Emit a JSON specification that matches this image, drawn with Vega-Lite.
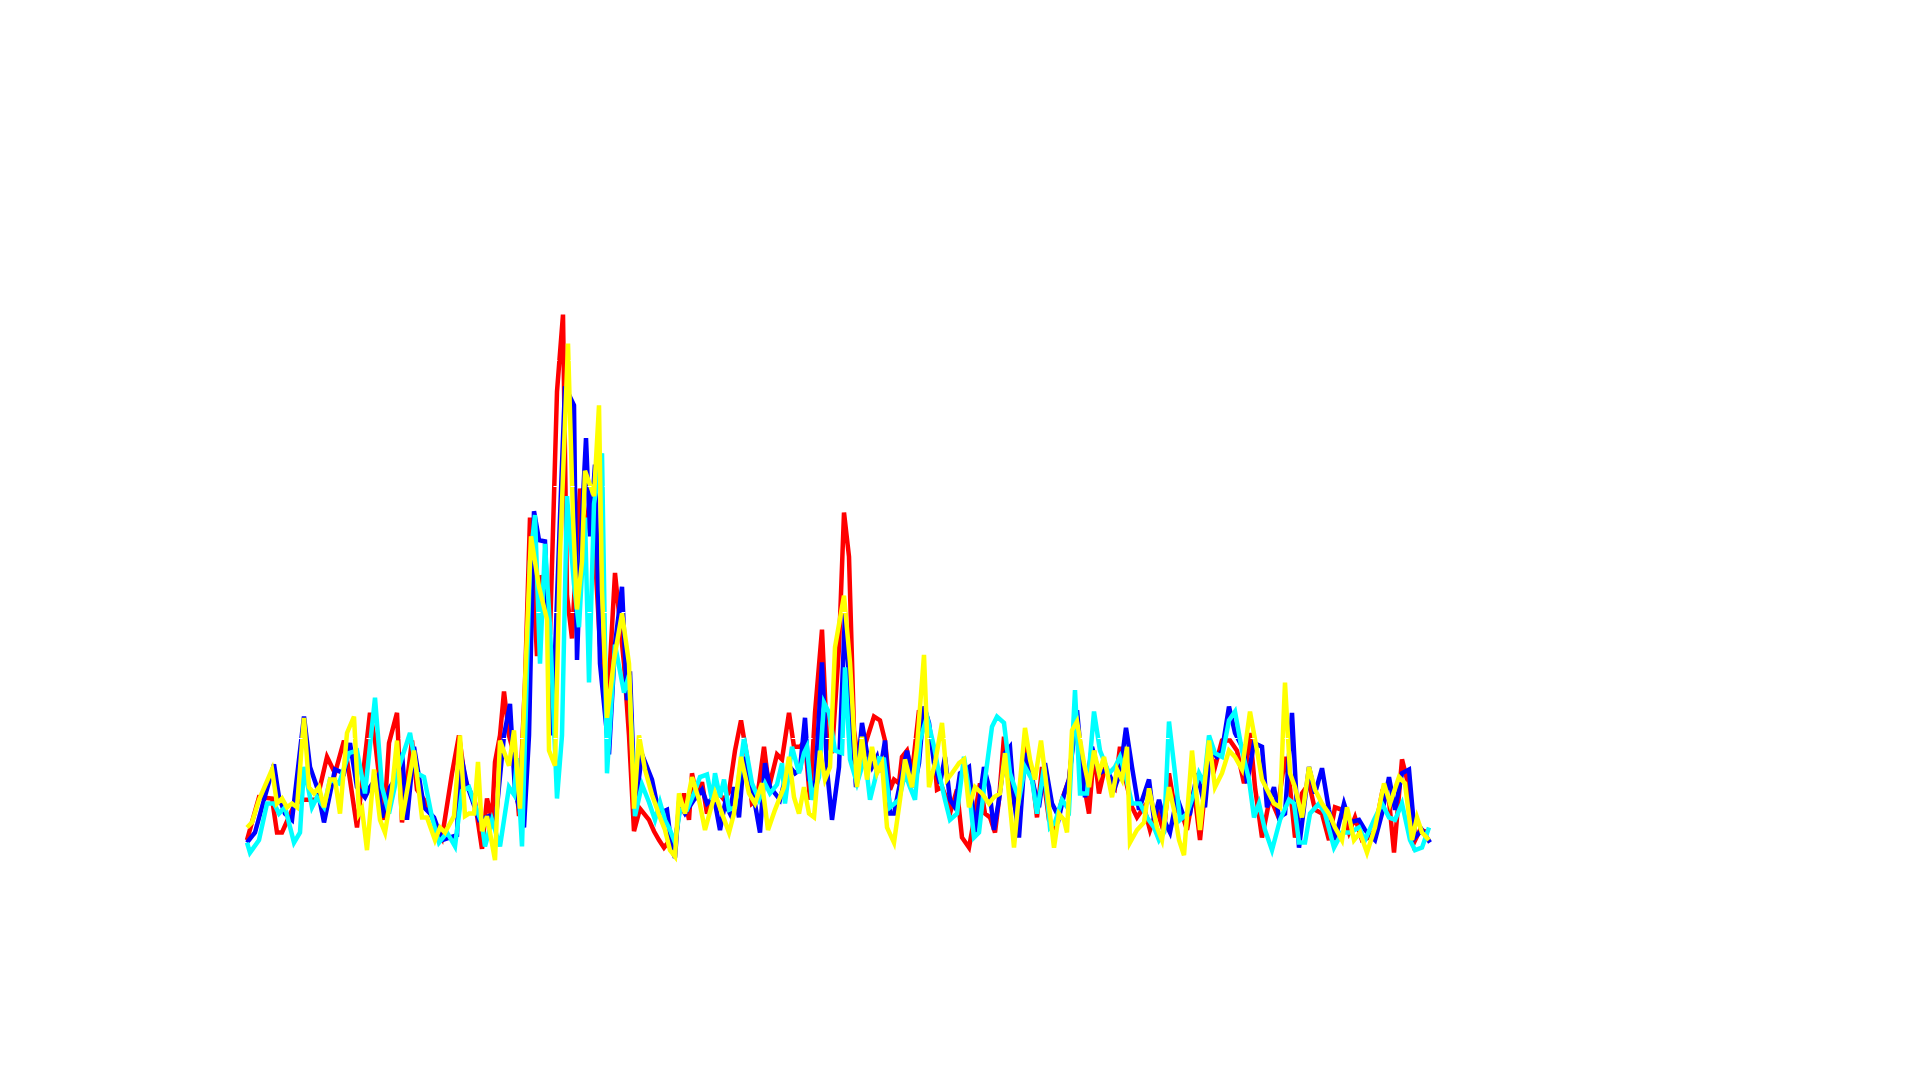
{
  "$schema": "https://vega.github.io/schema/vega-lite/v6.json",
  "width": 1185,
  "height": 630,
  "padding": {"left": 238, "top": 234, "right": 0, "bottom": 0},
  "background": "white",
  "config": {"view": {"stroke": null}},
  "datasets": {
    "red": [
      {"t":0,"v":0.19},{"t":12,"v":0.53},{"t":25,"v":0.52},{"t":30,"v":0.25},{"t":35,"v":0.25},{"t":48,"v":0.48},{"t":57,"v":0.51},{"t":70,"v":0.51},{"t":80,"v":0.85},{"t":88,"v":0.72},{"t":97,"v":0.98},{"t":102,"v":0.72},{"t":110,"v":0.29},{"t":123,"v":1.20},{"t":128,"v":0.98},{"t":137,"v":0.35},{"t":142,"v":0.96},{"t":150,"v":1.20},{"t":155,"v":0.33},{"t":165,"v":0.98},{"t":170,"v":0.59},{"t":177,"v":0.51},{"t":185,"v":0.37},{"t":195,"v":0.21},
      {"t":205,"v":0.72},{"t":212,"v":1.02},{"t":218,"v":0.67},{"t":228,"v":0.49},{"t":235,"v":0.12},{"t":240,"v":0.52},{"t":245,"v":0.35},{"t":248,"v":0.81},{"t":253,"v":1.02},{"t":257,"v":1.37},{"t":262,"v":1.02},{"t":267,"v":0.87},{"t":272,"v":0.38},{"t":278,"v":1.44},{"t":283,"v":2.75},{"t":290,"v":1.65},{"t":293,"v":2.29},{"t":298,"v":2.17},{"t":303,"v":1.82},{"t":310,"v":3.75},{"t":316,"v":4.36},{"t":320,"v":2.13},{"t":325,"v":1.79},{"t":333,"v":2.98},{"t":338,"v":2.63},{"t":343,"v":2.89},{"t":348,"v":2.45},{"t":353,"v":1.74},{"t":360,"v":1.16},{"t":368,"v":2.31},{"t":377,"v":1.59},{"t":382,"v":1.02},{"t":387,"v":0.26},{"t":393,"v":0.44},{"t":402,"v":0.35},{"t":407,"v":0.26},
      {"t":412,"v":0.19},{"t":417,"v":0.13},{"t":423,"v":0.19},{"t":427,"v":0.11},{"t":432,"v":0.40},{"t":437,"v":0.56},{"t":442,"v":0.35},{"t":445,"v":0.72},{"t":450,"v":0.51},{"t":455,"v":0.65},{"t":460,"v":0.40},{"t":465,"v":0.51},{"t":472,"v":0.56},{"t":477,"v":0.51},{"t":482,"v":0.57},{"t":488,"v":0.90},{"t":494,"v":1.14},{"t":500,"v":0.85},{"t":505,"v":0.48},{"t":510,"v":0.51},{"t":517,"v":0.93},{"t":522,"v":0.61},{"t":530,"v":0.87},{"t":535,"v":0.83},{"t":542,"v":1.20},{"t":547,"v":0.93},{"t":553,"v":0.93},{"t":558,"v":0.98},{"t":563,"v":0.51},{"t":568,"v":1.20},{"t":575,"v":1.86},{"t":580,"v":0.98},{"t":585,"v":0.88},{"t":592,"v":1.72},{"t":597,"v":2.79},{"t":602,"v":2.44},{"t":607,"v":1.06},{"t":612,"v":0.77},
      {"t":617,"v":0.92},{"t":627,"v":1.17},{"t":633,"v":1.14},{"t":638,"v":0.98},{"t":643,"v":0.59},{"t":647,"v":0.67},{"t":652,"v":0.64},{"t":655,"v":0.85},{"t":660,"v":0.90},{"t":665,"v":0.72},{"t":672,"v":1.22},{"t":678,"v":1.09},{"t":683,"v":1.01},{"t":687,"v":0.88},{"t":690,"v":0.59},{"t":695,"v":0.61},{"t":700,"v":0.51},{"t":704,"v":0.43},{"t":710,"v":0.59},{"t":715,"v":0.21},{"t":722,"v":0.13},{"t":727,"v":0.35},{"t":733,"v":0.64},{"t":738,"v":0.40},{"t":743,"v":0.37},{"t":748,"v":0.25},{"t":752,"v":0.51},{"t":757,"v":1.01},{"t":762,"v":0.75},{"t":768,"v":0.45},{"t":773,"v":0.59},{"t":778,"v":0.98},{"t":785,"v":0.72},{"t":790,"v":0.37},{"t":795,"v":0.77},{"t":802,"v":0.35},{"t":808,"v":0.29},{"t":815,"v":0.51},
      {"t":822,"v":0.67},{"t":828,"v":1.12},{"t":835,"v":0.72},{"t":842,"v":0.40},{"t":847,"v":0.90},{"t":852,"v":0.56},{"t":858,"v":0.77},{"t":863,"v":0.67},{"t":868,"v":0.61},{"t":873,"v":0.93},{"t":878,"v":0.69},{"t":885,"v":0.45},{"t":890,"v":0.37},{"t":897,"v":0.45},{"t":903,"v":0.27},{"t":910,"v":0.43},{"t":917,"v":0.25},{"t":922,"v":0.72},{"t":928,"v":0.43},{"t":935,"v":0.40},{"t":940,"v":0.27},{"t":947,"v":0.59},{"t":953,"v":0.19},{"t":962,"v":0.90},{"t":968,"v":0.77},{"t":975,"v":0.98},{"t":983,"v":0.98},{"t":990,"v":0.90},{"t":997,"v":0.64},{"t":1003,"v":1.04},{"t":1008,"v":0.61},{"t":1015,"v":0.21},
      {"t":1023,"v":0.53},{"t":1030,"v":0.40},{"t":1038,"v":0.85},{"t":1043,"v":0.61},{"t":1048,"v":0.21},{"t":1055,"v":0.56},{"t":1062,"v":0.64},{"t":1068,"v":0.43},{"t":1075,"v":0.40},{"t":1082,"v":0.19},{"t":1088,"v":0.45},{"t":1095,"v":0.43},{"t":1102,"v":0.25},{"t":1108,"v":0.37},{"t":1115,"v":0.19},{"t":1122,"v":0.21},{"t":1128,"v":0.27},{"t":1135,"v":0.56},{"t":1142,"v":0.51},{"t":1147,"v":0.09},{"t":1155,"v":0.83},{"t":1162,"v":0.61},{"t":1167,"v":0.17},{"t":1173,"v":0.27},{"t":1182,"v":0.25}
    ],
    "blue": [
      {"t":0,"v":0.17},{"t":8,"v":0.25},{"t":17,"v":0.51},{"t":27,"v":0.79},{"t":32,"v":0.53},{"t":38,"v":0.40},{"t":45,"v":0.35},{"t":57,"v":1.17},{"t":63,"v":0.77},{"t":70,"v":0.61},{"t":77,"v":0.33},{"t":88,"v":0.75},{"t":97,"v":0.72},{"t":103,"v":0.96},{"t":110,"v":0.61},{"t":118,"v":0.53},{"t":123,"v":0.61},{"t":130,"v":0.69},{"t":135,"v":0.37},{"t":143,"v":0.61},{"t":148,"v":0.67},{"t":155,"v":0.88},{"t":160,"v":0.35},{"t":167,"v":0.93},{"t":177,"v":0.45},{"t":187,"v":0.37},{"t":195,"v":0.19},
      {"t":210,"v":0.23},{"t":213,"v":0.90},{"t":220,"v":0.63},{"t":232,"v":0.35},{"t":242,"v":0.38},{"t":248,"v":0.29},{"t":257,"v":1.02},{"t":263,"v":1.27},{"t":268,"v":0.58},{"t":277,"v":0.29},{"t":282,"v":1.02},{"t":287,"v":2.80},{"t":292,"v":2.57},{"t":298,"v":2.56},{"t":305,"v":1.02},{"t":313,"v":2.75},{"t":318,"v":3.79},{"t":327,"v":3.64},{"t":330,"v":1.62},{"t":335,"v":2.75},{"t":339,"v":3.38},{"t":343,"v":2.60},{"t":348,"v":3.17},{"t":353,"v":1.59},{"t":362,"v":0.87},{"t":368,"v":1.74},{"t":375,"v":2.20},{"t":380,"v":1.30},{"t":383,"v":1.53},{"t":388,"v":0.44},{"t":395,"v":0.87},{"t":405,"v":0.67},
      {"t":412,"v":0.40},{"t":420,"v":0.43},{"t":425,"v":0.11},{"t":428,"v":0.05},{"t":432,"v":0.48},{"t":438,"v":0.40},{"t":447,"v":0.51},{"t":455,"v":0.59},{"t":460,"v":0.48},{"t":467,"v":0.53},{"t":473,"v":0.27},{"t":478,"v":0.48},{"t":483,"v":0.40},{"t":487,"v":0.61},{"t":492,"v":0.37},{"t":497,"v":0.85},{"t":505,"v":0.61},{"t":513,"v":0.25},{"t":518,"v":0.80},{"t":523,"v":0.61},{"t":528,"v":0.56},{"t":533,"v":0.51},{"t":538,"v":0.67},{"t":543,"v":0.77},{"t":548,"v":0.72},{"t":553,"v":0.75},{"t":558,"v":1.16},{"t":562,"v":0.67},{"t":568,"v":0.61},{"t":575,"v":1.60},{"t":580,"v":0.75},{"t":585,"v":0.35},{"t":592,"v":0.77},{"t":598,"v":1.99},{"t":603,"v":1.33},{"t":609,"v":0.61},{"t":615,"v":1.12},
      {"t":620,"v":0.88},{"t":625,"v":0.77},{"t":630,"v":0.85},{"t":633,"v":0.73},{"t":638,"v":0.98},{"t":643,"v":0.40},{"t":647,"v":0.40},{"t":653,"v":0.64},{"t":660,"v":0.90},{"t":667,"v":0.61},{"t":672,"v":0.80},{"t":677,"v":1.25},{"t":682,"v":1.12},{"t":687,"v":0.80},{"t":693,"v":0.64},{"t":698,"v":0.85},{"t":703,"v":0.51},{"t":708,"v":0.45},{"t":713,"v":0.72},{"t":722,"v":0.77},{"t":728,"v":0.25},{"t":737,"v":0.77},{"t":742,"v":0.61},{"t":747,"v":0.27},{"t":752,"v":0.51},{"t":758,"v":0.88},{"t":763,"v":0.93},{"t":767,"v":0.51},{"t":772,"v":0.21},{"t":778,"v":0.88},{"t":785,"v":0.67},{"t":792,"v":0.45},{"t":798,"v":0.80},{"t":805,"v":0.48},{"t":812,"v":0.37},
      {"t":817,"v":0.55},{"t":822,"v":0.67},{"t":830,"v":1.22},{"t":838,"v":0.53},{"t":845,"v":0.93},{"t":852,"v":0.72},{"t":860,"v":0.75},{"t":868,"v":0.61},{"t":873,"v":0.72},{"t":879,"v":1.08},{"t":885,"v":0.77},{"t":892,"v":0.43},{"t":902,"v":0.67},{"t":907,"v":0.35},{"t":912,"v":0.51},{"t":917,"v":0.35},{"t":923,"v":0.25},{"t":930,"v":0.53},{"t":937,"v":0.37},{"t":943,"v":0.40},{"t":950,"v":0.72},{"t":958,"v":0.45},{"t":963,"v":0.90},{"t":970,"v":0.85},{"t":975,"v":0.90},{"t":982,"v":1.25},{"t":988,"v":1.04},{"t":997,"v":0.90},{"t":1000,"v":0.64},{"t":1007,"v":0.96},{"t":1015,"v":0.93},
      {"t":1020,"v":0.45},{"t":1027,"v":0.61},{"t":1032,"v":0.37},{"t":1038,"v":0.40},{"t":1045,"v":1.20},{"t":1052,"v":0.13},{"t":1062,"v":0.77},{"t":1068,"v":0.56},{"t":1075,"v":0.76},{"t":1082,"v":0.43},{"t":1088,"v":0.19},{"t":1097,"v":0.48},{"t":1103,"v":0.33},{"t":1112,"v":0.35},{"t":1118,"v":0.27},{"t":1128,"v":0.19},{"t":1135,"v":0.40},{"t":1142,"v":0.69},{"t":1148,"v":0.43},{"t":1155,"v":0.72},{"t":1162,"v":0.75},{"t":1168,"v":0.21},{"t":1175,"v":0.27},{"t":1183,"v":0.17}
    ],
    "cyan": [
      {"t":0,"v":0.17},{"t":3,"v":0.09},{"t":12,"v":0.19},{"t":20,"v":0.48},{"t":27,"v":0.48},{"t":32,"v":0.40},{"t":38,"v":0.45},{"t":47,"v":0.17},{"t":53,"v":0.25},{"t":57,"v":0.77},{"t":65,"v":0.45},{"t":70,"v":0.53},{"t":77,"v":0.45},{"t":83,"v":0.67},{"t":92,"v":0.64},{"t":102,"v":0.88},{"t":110,"v":0.90},{"t":118,"v":0.56},{"t":128,"v":1.32},{"t":135,"v":0.61},{"t":142,"v":0.40},{"t":152,"v":0.77},{"t":163,"v":1.04},{"t":170,"v":0.72},{"t":177,"v":0.69},{"t":185,"v":0.37},{"t":192,"v":0.17},{"t":200,"v":0.25},
      {"t":208,"v":0.14},{"t":215,"v":0.58},{"t":222,"v":0.61},{"t":227,"v":0.49},{"t":235,"v":0.32},{"t":238,"v":0.14},{"t":245,"v":0.35},{"t":253,"v":0.14},{"t":262,"v":0.61},{"t":267,"v":0.55},{"t":270,"v":0.84},{"t":275,"v":0.14},{"t":283,"v":2.40},{"t":288,"v":2.77},{"t":293,"v":1.59},{"t":298,"v":2.54},{"t":303,"v":1.88},{"t":310,"v":0.52},{"t":315,"v":1.02},{"t":320,"v":2.92},{"t":327,"v":2.22},{"t":332,"v":1.88},{"t":338,"v":2.75},{"t":342,"v":1.44},{"t":347,"v":2.86},{"t":355,"v":3.26},{"t":360,"v":0.72},{"t":368,"v":1.74},{"t":377,"v":1.36},{"t":382,"v":1.50},{"t":388,"v":0.38},{"t":395,"v":0.63},{"t":402,"v":0.49},{"t":408,"v":0.35},
      {"t":413,"v":0.49},{"t":418,"v":0.35},{"t":423,"v":0.27},{"t":428,"v":0.17},{"t":433,"v":0.43},{"t":440,"v":0.43},{"t":447,"v":0.56},{"t":453,"v":0.69},{"t":460,"v":0.71},{"t":465,"v":0.51},{"t":468,"v":0.72},{"t":473,"v":0.53},{"t":477,"v":0.67},{"t":482,"v":0.43},{"t":488,"v":0.45},{"t":497,"v":1.00},{"t":505,"v":0.64},{"t":512,"v":0.51},{"t":518,"v":0.64},{"t":523,"v":0.56},{"t":530,"v":0.63},{"t":535,"v":0.80},{"t":538,"v":0.48},{"t":545,"v":0.93},{"t":552,"v":0.72},{"t":557,"v":0.88},{"t":560,"v":0.93},{"t":565,"v":0.51},{"t":572,"v":0.69},{"t":577,"v":1.28},{"t":582,"v":1.20},{"t":588,"v":0.90},{"t":595,"v":0.88},{"t":598,"v":1.56},{"t":603,"v":0.83},{"t":610,"v":0.64},{"t":618,"v":0.85},
      {"t":623,"v":0.51},{"t":628,"v":0.67},{"t":632,"v":0.84},{"t":637,"v":0.83},{"t":643,"v":0.45},{"t":652,"v":0.51},{"t":658,"v":0.72},{"t":663,"v":0.61},{"t":668,"v":0.51},{"t":673,"v":0.98},{"t":680,"v":1.17},{"t":687,"v":0.93},{"t":692,"v":0.72},{"t":698,"v":0.51},{"t":703,"v":0.35},{"t":710,"v":0.40},{"t":717,"v":0.85},{"t":722,"v":0.59},{"t":727,"v":0.21},{"t":732,"v":0.25},{"t":738,"v":0.67},{"t":745,"v":1.09},{"t":750,"v":1.17},{"t":757,"v":1.12},{"t":763,"v":0.72},{"t":772,"v":0.51},{"t":778,"v":0.77},{"t":785,"v":0.67},{"t":790,"v":0.40},{"t":797,"v":0.77},{"t":803,"v":0.29},{"t":808,"v":0.33},{"t":815,"v":0.51},
      {"t":822,"v":0.43},{"t":828,"v":1.38},{"t":833,"v":0.56},{"t":840,"v":0.56},{"t":847,"v":1.21},{"t":853,"v":0.90},{"t":862,"v":0.72},{"t":868,"v":0.77},{"t":873,"v":0.85},{"t":878,"v":0.72},{"t":885,"v":0.48},{"t":893,"v":0.48},{"t":900,"v":0.37},{"t":907,"v":0.29},{"t":912,"v":0.19},{"t":917,"v":0.25},{"t":922,"v":1.13},{"t":928,"v":0.72},{"t":933,"v":0.35},{"t":940,"v":0.40},{"t":947,"v":0.56},{"t":952,"v":0.72},{"t":957,"v":0.64},{"t":962,"v":1.02},{"t":968,"v":0.88},{"t":975,"v":0.85},{"t":982,"v":1.14},{"t":988,"v":1.21},{"t":995,"v":0.90},{"t":1002,"v":0.67},{"t":1007,"v":0.37},{"t":1012,"v":0.48},{"t":1018,"v":0.27},{"t":1025,"v":0.11},
      {"t":1033,"v":0.35},{"t":1042,"v":0.51},{"t":1047,"v":0.48},{"t":1052,"v":0.17},{"t":1058,"v":0.17},{"t":1063,"v":0.40},{"t":1072,"v":0.48},{"t":1078,"v":0.40},{"t":1087,"v":0.13},{"t":1095,"v":0.25},{"t":1103,"v":0.25},{"t":1112,"v":0.29},{"t":1118,"v":0.19},{"t":1127,"v":0.35},{"t":1135,"v":0.48},{"t":1142,"v":0.37},{"t":1148,"v":0.35},{"t":1155,"v":0.48},{"t":1163,"v":0.19},{"t":1168,"v":0.11},{"t":1175,"v":0.13},{"t":1182,"v":0.29}
    ],
    "yellow": [
      {"t":0,"v":0.29},{"t":5,"v":0.33},{"t":12,"v":0.51},{"t":25,"v":0.75},{"t":30,"v":0.48},{"t":35,"v":0.52},{"t":40,"v":0.45},{"t":45,"v":0.48},{"t":50,"v":0.45},{"t":57,"v":1.16},{"t":62,"v":0.61},{"t":67,"v":0.56},{"t":72,"v":0.61},{"t":77,"v":0.45},{"t":83,"v":0.67},{"t":88,"v":0.67},{"t":93,"v":0.40},{"t":100,"v":1.04},{"t":107,"v":1.17},{"t":112,"v":0.40},{"t":115,"v":0.44},{"t":120,"v":0.11},{"t":127,"v":0.75},{"t":133,"v":0.35},{"t":138,"v":0.25},{"t":145,"v":0.59},{"t":150,"v":0.98},{"t":155,"v":0.35},{"t":162,"v":0.67},{"t":167,"v":0.90},{"t":175,"v":0.37},{"t":180,"v":0.37},{"t":188,"v":0.19},{"t":193,"v":0.29},{"t":198,"v":0.25},
      {"t":207,"v":0.38},{"t":213,"v":1.02},{"t":218,"v":0.38},{"t":222,"v":0.40},{"t":227,"v":0.40},{"t":231,"v":0.81},{"t":235,"v":0.26},{"t":240,"v":0.38},{"t":248,"v":0.03},{"t":253,"v":0.98},{"t":262,"v":0.78},{"t":267,"v":1.06},{"t":273,"v":0.44},{"t":278,"v":1.44},{"t":284,"v":2.60},{"t":292,"v":2.20},{"t":300,"v":1.94},{"t":302,"v":0.90},{"t":308,"v":0.78},{"t":313,"v":2.45},{"t":321,"v":4.13},{"t":326,"v":2.75},{"t":330,"v":2.02},{"t":335,"v":2.40},{"t":338,"v":3.12},{"t":347,"v":2.92},{"t":352,"v":3.64},{"t":355,"v":2.17},{"t":360,"v":1.16},{"t":367,"v":1.62},{"t":375,"v":1.99},{"t":382,"v":1.59},{"t":387,"v":0.44},{"t":392,"v":1.02},{"t":398,"v":0.75},{"t":405,"v":0.55},
      {"t":413,"v":0.37},{"t":418,"v":0.27},{"t":423,"v":0.11},{"t":428,"v":0.06},{"t":432,"v":0.56},{"t":438,"v":0.40},{"t":445,"v":0.69},{"t":452,"v":0.51},{"t":458,"v":0.27},{"t":468,"v":0.56},{"t":475,"v":0.40},{"t":482,"v":0.25},{"t":487,"v":0.40},{"t":494,"v":0.85},{"t":502,"v":0.56},{"t":508,"v":0.48},{"t":515,"v":0.64},{"t":521,"v":0.27},{"t":528,"v":0.43},{"t":537,"v":0.61},{"t":542,"v":0.85},{"t":547,"v":0.53},{"t":552,"v":0.40},{"t":557,"v":0.61},{"t":562,"v":0.40},{"t":567,"v":0.37},{"t":573,"v":0.90},{"t":578,"v":0.67},{"t":583,"v":0.77},{"t":588,"v":1.72},{"t":597,"v":2.13},{"t":603,"v":1.60},{"t":610,"v":0.61},{"t":615,"v":1.01},
      {"t":620,"v":0.67},{"t":625,"v":0.93},{"t":630,"v":0.72},{"t":635,"v":0.80},{"t":640,"v":0.29},{"t":647,"v":0.17},{"t":653,"v":0.51},{"t":658,"v":0.83},{"t":665,"v":0.61},{"t":670,"v":0.93},{"t":677,"v":1.66},{"t":682,"v":0.61},{"t":688,"v":0.80},{"t":695,"v":1.12},{"t":700,"v":0.67},{"t":705,"v":0.72},{"t":712,"v":0.80},{"t":717,"v":0.83},{"t":722,"v":0.45},{"t":728,"v":0.61},{"t":735,"v":0.56},{"t":742,"v":0.48},{"t":747,"v":0.53},{"t":753,"v":0.56},{"t":758,"v":0.88},{"t":767,"v":0.13},{"t":772,"v":0.56},{"t":778,"v":1.08},{"t":783,"v":0.83},{"t":788,"v":0.67},{"t":794,"v":0.98},{"t":800,"v":0.59},{"t":807,"v":0.13},{"t":812,"v":0.40},{"t":817,"v":0.35},
      {"t":820,"v":0.25},{"t":825,"v":1.06},{"t":830,"v":1.13},{"t":837,"v":0.80},{"t":842,"v":0.61},{"t":847,"v":0.90},{"t":852,"v":0.72},{"t":857,"v":0.85},{"t":865,"v":0.53},{"t":870,"v":0.75},{"t":875,"v":0.67},{"t":880,"v":0.93},{"t":883,"v":0.17},{"t":890,"v":0.27},{"t":897,"v":0.33},{"t":902,"v":0.60},{"t":910,"v":0.29},{"t":915,"v":0.19},{"t":922,"v":0.61},{"t":927,"v":0.43},{"t":932,"v":0.19},{"t":937,"v":0.07},{"t":945,"v":0.90},{"t":953,"v":0.27},{"t":962,"v":0.98},{"t":968,"v":0.61},{"t":975,"v":0.72},{"t":982,"v":0.90},{"t":988,"v":0.85},{"t":995,"v":0.75},{"t":1003,"v":1.21},{"t":1010,"v":0.90},{"t":1015,"v":0.67},
      {"t":1027,"v":0.48},{"t":1033,"v":0.45},{"t":1038,"v":1.44},{"t":1043,"v":0.72},{"t":1048,"v":0.61},{"t":1055,"v":0.37},{"t":1062,"v":0.77},{"t":1068,"v":0.59},{"t":1075,"v":0.48},{"t":1082,"v":0.40},{"t":1088,"v":0.29},{"t":1095,"v":0.19},{"t":1100,"v":0.45},{"t":1107,"v":0.19},{"t":1113,"v":0.25},{"t":1120,"v":0.09},{"t":1128,"v":0.29},{"t":1137,"v":0.64},{"t":1143,"v":0.48},{"t":1152,"v":0.69},{"t":1158,"v":0.64},{"t":1165,"v":0.19},{"t":1170,"v":0.37},{"t":1175,"v":0.25},{"t":1182,"v":0.19}
    ]
  },
  "encoding": {
    "x": {"field": "t", "type": "quantitative", "scale": {"domain": [0, 1185], "nice": false, "zero": false}, "axis": null},
    "y": {"field": "v", "type": "quantitative", "scale": {"domain": [0, 5], "nice": false}, "axis": {"values": [1, 2, 3, 4], "grid": true, "gridColor": "white", "gridDash": [4, 13], "gridWidth": 1, "domain": false, "ticks": false, "labels": false, "title": null, "zindex": 1}}
  },
  "layer": [
    {"data": {"name": "red"}, "mark": {"type": "line", "color": "#ff0000", "strokeWidth": 4.5}},
    {"data": {"name": "blue"}, "mark": {"type": "line", "color": "#0000ff", "strokeWidth": 4.5}},
    {"data": {"name": "cyan"}, "mark": {"type": "line", "color": "#00ffff", "strokeWidth": 4.5}},
    {"data": {"name": "yellow"}, "mark": {"type": "line", "color": "#ffff00", "strokeWidth": 4.5}}
  ]
}
